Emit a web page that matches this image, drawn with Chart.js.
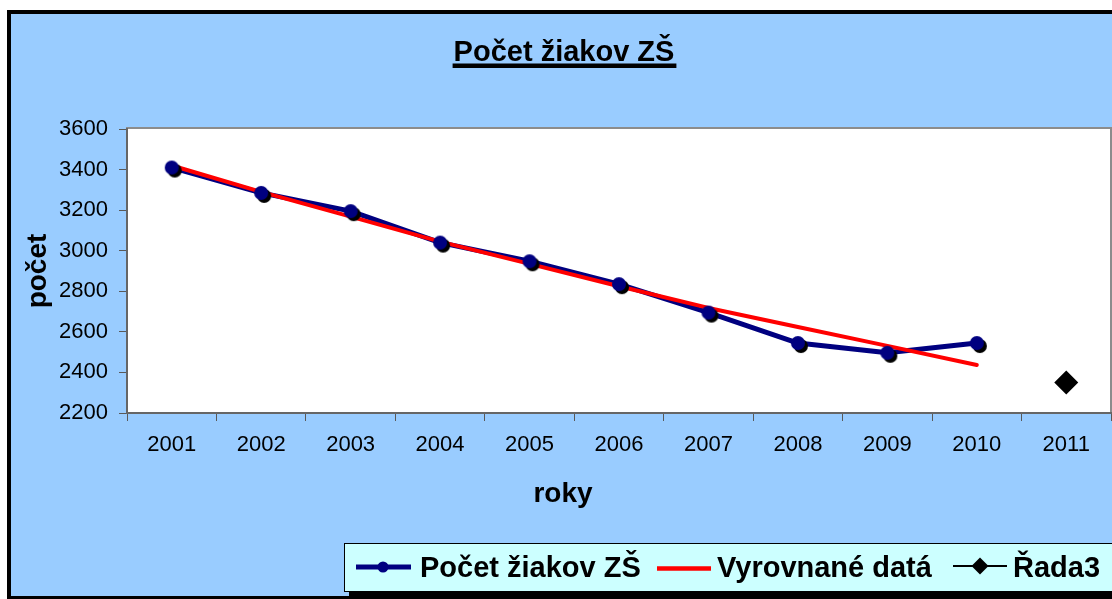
<!DOCTYPE html>
<html lang="sk">
<head>
<meta charset="utf-8">
<title>Počet žiakov ZŠ</title>
<script src="https://cdn.jsdelivr.net/npm/chart.js@4.4.1/dist/chart.umd.min.js"></script>
<style>
  html, body { margin: 0; padding: 0; background: #fff; }
  #wrap { width: 1112px; height: 599px; position: relative; overflow: hidden; }
</style>
</head>
<body>
<div id="wrap"><canvas id="chart" width="1112" height="599"></canvas></div>
<script>
// --- data ---
const years = ['2001', '2002', '2003', '2004', '2005', '2006', '2007', '2008', '2009', '2010', '2011'];
const pocetZiakov = [3410, 3285, 3195, 3040, 2948, 2835, 2695, 2545, 2497, 2545, null];
const vyrovnaneData = [3420, 3290, 3168, 3045, 2935, 2825, 2718, 2624, 2531, 2437, null];
const rada3 = [null, null, null, null, null, null, null, null, null, null, 2350];
const yMin = 2200;
const yMax = 3600;
const yStep = 200;

const chartTitle = 'Počet žiakov ZŠ';
const xTitle = 'roky';
const yTitle = 'počet';
const seriesNames = ['Počet žiakov ZŠ', 'Vyrovnané datá', 'Řada3'];

const FONT = "'Liberation Sans', Arial, sans-serif";
const NAVY = '#000080';
const RED = '#ff0000';

// marker with the small black shadow Excel puts under it
function shadowMarker() {
    const c = document.createElement('canvas');
    c.width = 28; c.height = 28;
    const g = c.getContext('2d');
    g.fillStyle = '#000';
    g.beginPath(); g.arc(17, 17, 7, 0, Math.PI * 2); g.fill();
    g.fillStyle = NAVY;
    g.beginPath(); g.arc(14, 14, 7, 0, Math.PI * 2); g.fill();
    return c;
}

// === frame, title, x title and legend ===
const decor = {
    id: 'decor',
    beforeDraw(chart) {
        const { ctx, chartArea: a, width, height } = chart;
        ctx.save();
        ctx.fillStyle = '#fff';
        ctx.fillRect(0, 0, width, height);
        ctx.fillStyle = '#000';
        ctx.fillRect(7, 10, width, height);
        ctx.fillStyle = '#99ccff';
        ctx.fillRect(11, 14, width, 582);
        ctx.fillStyle = '#fff';
        ctx.fillRect(a.left, a.top, a.right - a.left, a.bottom - a.top);
        ctx.strokeStyle = '#8c8c8c';
        ctx.lineWidth = 2;
        ctx.strokeRect(a.left, a.top - 1, a.right - a.left, a.bottom - a.top + 1);
        ctx.restore();
    },
    afterDraw(chart) {
        const ctx = chart.ctx;
        ctx.save();

        // title, underlined
        ctx.fillStyle = '#000';
        ctx.font = 'bold 29px ' + FONT;
        ctx.textAlign = 'center';
        ctx.textBaseline = 'alphabetic';
        ctx.fillText(chartTitle, 564, 61);
        const tw = ctx.measureText(chartTitle).width;
        ctx.fillRect(564 - tw / 2 - 1, 63.5, tw + 3, 4.5);

        // x axis title
        ctx.font = 'bold 28px ' + FONT;
        ctx.fillText(xTitle, 563, 502);

        // legend box with shadow
        const bx = 344, by = 543, bb = 591;
        ctx.fillStyle = '#000';
        ctx.fillRect(bx + 5, by + 5, chart.width, bb - by);
        ctx.fillStyle = '#ccffff';
        ctx.fillRect(bx, by, chart.width, bb - by);
        ctx.strokeStyle = '#000';
        ctx.lineWidth = 1;
        ctx.strokeRect(bx + 0.5, by + 0.5, chart.width, bb - by);

        const cy = 567;
        ctx.textAlign = 'left';
        ctx.font = 'bold 29px ' + FONT;

        // 1: navy line with dot
        ctx.strokeStyle = NAVY;
        ctx.lineWidth = 5;
        ctx.beginPath(); ctx.moveTo(356, cy); ctx.lineTo(411, cy); ctx.stroke();
        ctx.fillStyle = NAVY;
        ctx.beginPath(); ctx.arc(383, cy, 5.5, 0, Math.PI * 2); ctx.fill();
        ctx.fillStyle = '#000';
        ctx.fillText(seriesNames[0], 420, 577);

        // 2: red line
        ctx.strokeStyle = RED;
        ctx.lineWidth = 4.5;
        ctx.beginPath(); ctx.moveTo(657, cy + 1.5); ctx.lineTo(711, cy + 1.5); ctx.stroke();
        ctx.fillText(seriesNames[1], 717, 577);

        // 3: thin black line with diamond
        ctx.strokeStyle = '#000';
        ctx.lineWidth = 2;
        ctx.beginPath(); ctx.moveTo(953, cy - 1); ctx.lineTo(1007, cy - 1); ctx.stroke();
        const dx = 980;
        ctx.beginPath();
        ctx.moveTo(dx - 8.5, cy - 1); ctx.lineTo(dx, cy - 9.5);
        ctx.lineTo(dx + 8.5, cy - 1); ctx.lineTo(dx, cy + 7.5);
        ctx.closePath(); ctx.fill();
        ctx.fillText(seriesNames[2], 1013, 577);

        ctx.restore();
    }
};

const marker = shadowMarker();

new Chart(document.getElementById('chart'), {
    type: 'line',
    data: {
        labels: years,
        datasets: [
            {
                // markers on top
                label: seriesNames[0],
                data: pocetZiakov,
                showLine: false,
                pointStyle: marker,
                pointRadius: 6,
                order: 0
            },
            {
                label: seriesNames[1],
                data: vyrovnaneData,
                borderColor: RED,
                borderWidth: 4,
                pointRadius: 0,
                order: 1
            },
            {
                label: seriesNames[0],
                data: pocetZiakov,
                borderColor: NAVY,
                borderWidth: 5,
                pointRadius: 0,
                order: 2
            },
            {
                label: seriesNames[2],
                data: rada3,
                showLine: false,
                pointStyle: 'rectRot',
                pointRadius: 12,
                backgroundColor: '#000',
                borderColor: '#000',
                borderWidth: 0,
                order: 0
            }
        ]
    },
    options: {
        responsive: false,
        animation: false,
        devicePixelRatio: 1,
        layout: {
            autoPadding: false,
            padding: { left: 0, top: 129, right: 1, bottom: 0 }
        },
        plugins: {
            legend: { display: false },
            title: { display: false },
            tooltip: { enabled: false }
        },
        elements: { line: { tension: 0, borderCapStyle: 'round', borderJoinStyle: 'round' } },
        scales: {
            x: {
                offset: true,
                grid: {
                    offset: true,
                    drawOnChartArea: false,
                    tickLength: 8,
                    color: '#595959',
                    lineWidth: 1
                },
                border: { color: '#666', width: 2 },
                ticks: {
                    color: '#000',
                    padding: 11,
                    font: { family: FONT, size: 22 },
                    maxRotation: 0,
                    autoSkip: false
                },
                afterFit(s) {
                    s.height = 186;
                    s.paddingLeft = 0;
                    s.paddingRight = 0;
                }
            },
            y: {
                min: yMin,
                max: yMax,
                grid: {
                    drawOnChartArea: false,
                    tickLength: 8,
                    color: '#595959',
                    lineWidth: 1
                },
                border: { color: '#666', width: 2 },
                ticks: {
                    stepSize: yStep,
                    color: '#000',
                    padding: 11,
                    font: { family: FONT, size: 22 },
                    callback: v => String(v)
                },
                title: {
                    display: true,
                    text: yTitle,
                    color: '#000',
                    font: { family: FONT, size: 28, weight: 'bold' },
                    padding: { top: 21, bottom: 0 }
                },
                afterFit(s) { s.width = 127; }
            }
        }
    },
    plugins: [decor]
});
</script>
</body>
</html>
